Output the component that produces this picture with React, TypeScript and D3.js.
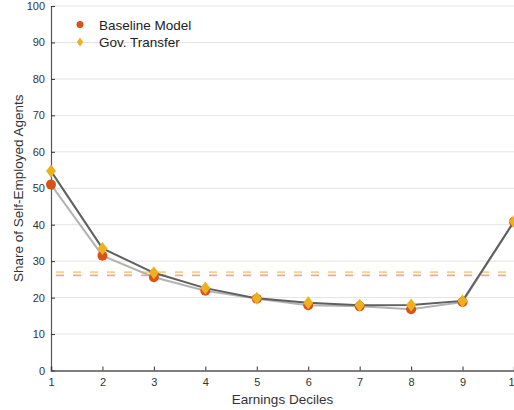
import React, { useEffect, useRef } from "react";
import * as d3 from "d3";

// earnings deciles
const deciles = [1, 2, 3, 4, 5, 6, 7, 8, 9, 10];
const baseline = [51.0, 31.5, 25.6, 21.9, 19.7, 17.9, 17.6, 16.8, 18.8, 40.8];
const govTransfer = [54.7, 33.5, 26.8, 22.6, 19.8, 18.6, 17.9, 18.0, 19.1, 40.9];
// averages shown as dashed lines
const baselineAvg = 26.1;
const govAvg = 27.0;
const yTicks = [0, 10, 20, 30, 40, 50, 60, 70, 80, 90, 100];

const W = 514;
const H = 410;
const margins = { top: 6, right: 0, bottom: 39.5, left: 51 };

const ORANGE = "#d95319";
const GOLD = "#edb120";

export default function App() {
  const ref = useRef<SVGSVGElement | null>(null);

  useEffect(() => {
    if (ref.current == null) return;
    const svg = d3.select(ref.current);
    svg.selectAll("*").remove();

    const x = d3.scaleLinear().domain([1, 10]).range([margins.left, W - margins.right]);
    const y = d3.scaleLinear().domain([0, 100]).range([H - margins.bottom, margins.top]);
    const font = "'Liberation Sans', Arial, Helvetica, sans-serif";

    // grid
    svg.append("g")
      .selectAll("line")
      .data(yTicks.slice(1))
      .enter()
      .append("line")
      .attr("x1", x(1))
      .attr("x2", x(10))
      .attr("y1", d => y(d))
      .attr("y2", d => y(d))
      .attr("stroke", "#e3e3e3")
      .attr("stroke-width", 1);

    // dashed averages
    const avgs = [
      { v: govAvg, c: "#f6cf8a" },
      { v: baselineAvg, c: "#efa98f" },
    ];
    svg.append("g")
      .selectAll("line")
      .data(avgs)
      .enter()
      .append("line")
      .attr("x1", x(1))
      .attr("x2", x(10))
      .attr("y1", d => y(d.v))
      .attr("y2", d => y(d.v))
      .attr("stroke", d => d.c)
      .attr("stroke-width", 1.8)
      .attr("stroke-dasharray", "8,9")
      .attr("stroke-dashoffset", -5);

    // Y axis
    const yAxis = svg.append("g")
      .attr("transform", "translate(" + margins.left + ",0)")
      .call(d3.axisRight(y).tickValues(yTicks).tickSize(4).tickFormat(d3.format("d")));
    yAxis.select(".domain").attr("stroke", "#555").attr("stroke-width", 1.2);
    yAxis.selectAll(".tick line").attr("stroke", "#333");
    yAxis.selectAll("text")
      .attr("x", -6)
      .style("text-anchor", "end")
      .attr("fill", "#333")
      .style("font-family", font)
      .style("font-size", "11px");

    // X axis
    const xAxis = svg.append("g")
      .attr("transform", "translate(0," + y(0) + ")")
      .call(d3.axisTop(x).tickValues(deciles).tickSize(4).tickFormat(d3.format("d")));
    xAxis.select(".domain").attr("stroke", "#555").attr("stroke-width", 1.5);
    xAxis.selectAll(".tick line").attr("stroke", "#333");
    xAxis.selectAll("text")
      .attr("y", 15.5)
      .attr("fill", "#333")
      .style("font-family", font)
      .style("font-size", "11px");

    const line = d3.line<number>()
      .x((_, i) => x(deciles[i]))
      .y(d => y(d));

    svg.append("path")
      .datum(baseline)
      .attr("d", line)
      .attr("fill", "none")
      .attr("stroke", "#b3b3b3")
      .attr("stroke-width", 2);

    svg.append("path")
      .datum(govTransfer)
      .attr("d", line)
      .attr("fill", "none")
      .attr("stroke", "#5f5f5f")
      .attr("stroke-width", 2);

    // markers
    svg.append("g")
      .selectAll("circle")
      .data(baseline)
      .enter()
      .append("circle")
      .attr("cx", (_, i) => x(deciles[i]))
      .attr("cy", d => y(d))
      .attr("r", 5)
      .attr("fill", ORANGE);

    const diamond = (cx: number, cy: number, w: number, h: number) =>
      `M${cx},${cy - h}L${cx + w},${cy}L${cx},${cy + h}L${cx - w},${cy}Z`;

    svg.append("g")
      .selectAll("path")
      .data(govTransfer)
      .enter()
      .append("path")
      .attr("d", (d, i) => diamond(x(deciles[i]), y(d), 5, 6.5))
      .attr("fill", GOLD);

    // legend
    const leg = svg.append("g");
    leg.append("circle").attr("cx", 80).attr("cy", 24.5).attr("r", 3.5).attr("fill", ORANGE);
    leg.append("path").attr("d", diamond(80, 42, 3.2, 4.5)).attr("fill", GOLD);
    leg.selectAll("text")
      .data(["Baseline Model", "Gov. Transfer"])
      .enter()
      .append("text")
      .attr("x", 99)
      .attr("y", (_, i) => 29.5 + i * 17.5)
      .attr("fill", "#222")
      .style("font-family", font)
      .style("font-size", "13.5px")
      .text(d => d);

    // axis titles
    svg.append("text")
      .attr("x", (x(1) + x(10)) / 2)
      .attr("y", 404)
      .attr("text-anchor", "middle")
      .attr("fill", "#333")
      .style("font-family", font)
      .style("font-size", "13.5px")
      .text("Earnings Deciles");

    svg.append("text")
      .attr("transform", "translate(22.5," + (y(50)) + ")rotate(-90)")
      .attr("text-anchor", "middle")
      .attr("fill", "#333")
      .style("font-family", font)
      .style("font-size", "13.5px")
      .text("Share of Self-Employed Agents");
  }, []);

  return (
    <svg
      ref={ref}
      width={W}
      height={H}
      style={{ position: "fixed", left: 0, top: 0, background: "#fff" }}
    ></svg>
  );
}
